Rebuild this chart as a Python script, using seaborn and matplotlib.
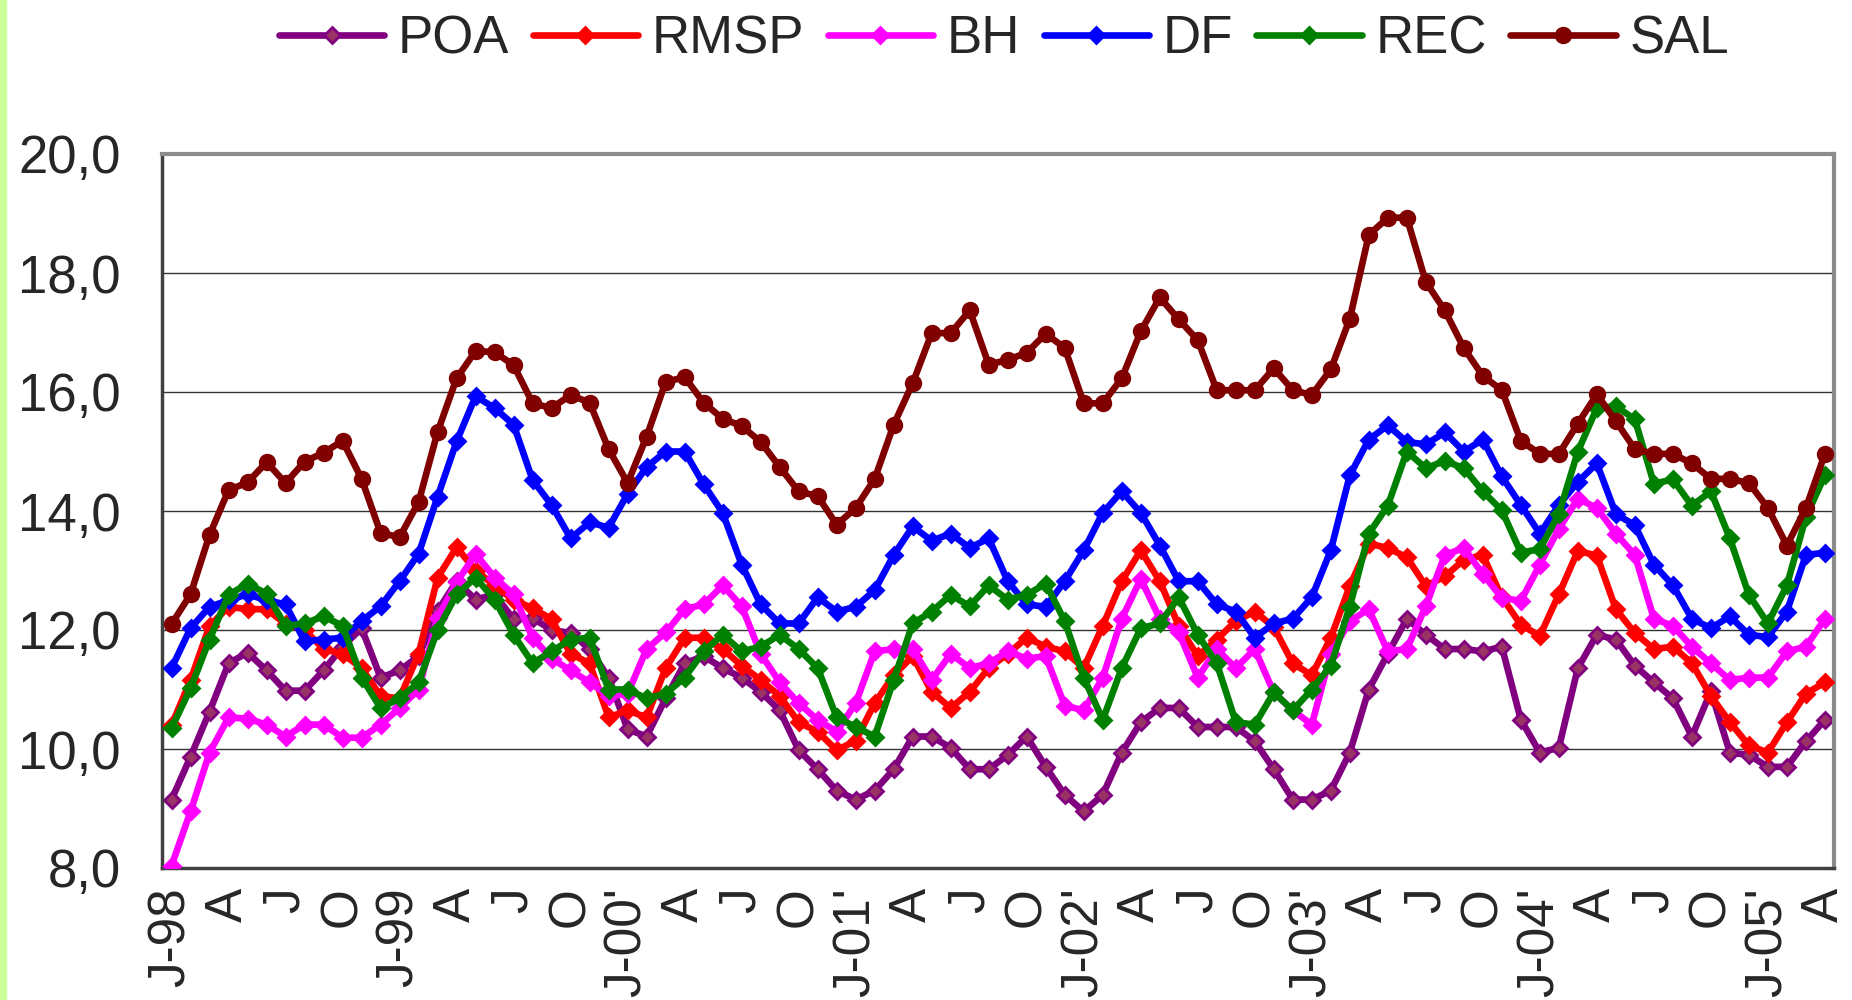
import numpy as np
import pandas as pd
import matplotlib
matplotlib.use("Agg")
import matplotlib.pyplot as plt
import seaborn as sns
from matplotlib.patches import Rectangle

# rotulos do eixo x (um a cada trimestre, jan/98 a abr/05)
rotulos = ["J-98", "A", "J", "O", "J-99", "A", "J", "O", "J-00'", "A", "J", "O",
           "J-01'", "A", "J", "O", "J-02'", "A", "J", "O", "J-03'", "A", "J", "O",
           "J-04'", "A", "J", "O", "J-05'", "A"]

cidades = ["POA", "RMSP", "BH", "DF", "REC", "SAL"]

poa = [9.15, 9.87, 10.63, 11.44, 11.62, 11.32, 10.98, 10.98, 11.32, 11.72, 12.03, 11.2,
       11.32, 11.56, 12.32, 12.82, 12.51, 12.6, 12.18, 12.2, 12.0, 11.95, 11.68, 11.2,
       10.33, 10.21, 10.85, 11.44, 11.56, 11.36, 11.2, 10.96, 10.65, 9.98, 9.66, 9.3,
       9.15, 9.3, 9.66, 10.21, 10.21, 10.02, 9.66, 9.66, 9.9, 10.21, 9.7, 9.23,
       8.95, 9.23, 9.94, 10.45, 10.69, 10.69, 10.37, 10.37, 10.37, 10.13, 9.66, 9.15,
       9.15, 9.3, 9.94, 11.0, 11.6, 12.19, 11.92, 11.68, 11.68, 11.64, 11.72, 10.49,
       9.94, 10.02, 11.36, 11.92, 11.84, 11.4, 11.12, 10.85, 10.21, 10.97, 9.94, 9.9,
       9.7, 9.7, 10.13, 10.49]

rmsp = [10.4, 11.16, 12.07, 12.39, 12.35, 12.35, 12.1, 12.0, 11.68, 11.6, 11.36, 10.89,
        10.85, 11.6, 12.88, 13.39, 13.0, 12.75, 12.5, 12.37, 12.18, 11.6, 11.44, 10.53,
        10.65, 10.53, 11.36, 11.87, 11.87, 11.68, 11.4, 11.16, 10.89, 10.45, 10.29, 9.98,
        10.14, 10.77, 11.24, 11.56, 10.96, 10.69, 10.96, 11.36, 11.6, 11.87, 11.72, 11.64,
        11.36, 12.07, 12.82, 13.34, 12.82, 12.07, 11.56, 11.84, 12.15, 12.31, 12.05, 11.44,
        11.24, 11.87, 12.74, 13.45, 13.38, 13.22, 12.74, 12.9, 13.18, 13.26, 12.55, 12.09,
        11.9, 12.6, 13.33, 13.25, 12.35, 11.95, 11.68, 11.72, 11.44, 10.89, 10.45, 10.06,
        9.94, 10.45, 10.93, 11.12]

bh = [8.04, 8.95, 9.94, 10.53, 10.51, 10.41, 10.21, 10.41, 10.41, 10.19, 10.19, 10.41,
      10.69, 11.0, 12.2, 12.8, 13.28, 12.88, 12.6, 11.87, 11.52, 11.32, 11.12, 10.89,
      10.93, 11.68, 11.96, 12.35, 12.43, 12.75, 12.4, 11.6, 11.12, 10.77, 10.49, 10.29,
      10.77, 11.64, 11.68, 11.68, 11.16, 11.6, 11.36, 11.44, 11.64, 11.52, 11.56, 10.73,
      10.65, 11.2, 12.19, 12.86, 12.19, 11.96, 11.2, 11.68, 11.36, 11.68, 10.95, 10.65,
      10.41, 11.6, 12.15, 12.35, 11.64, 11.68, 12.4, 13.26, 13.38, 12.94, 12.54, 12.49,
      13.1, 13.7, 14.21, 14.05, 13.62, 13.26, 12.19, 12.07, 11.72, 11.44, 11.16, 11.2,
      11.2, 11.64, 11.72, 12.19]

df_ = [11.36, 12.03, 12.39, 12.5, 12.6, 12.5, 12.43, 11.81, 11.84, 11.87, 12.15, 12.4,
       12.82, 13.28, 14.24, 15.17, 15.93, 15.73, 15.45, 14.52, 14.1, 13.54, 13.81, 13.72,
       14.29, 14.74, 15.0, 15.0, 14.45, 13.97, 13.1, 12.43, 12.11, 12.11, 12.55, 12.31,
       12.39, 12.67, 13.26, 13.74, 13.5, 13.62, 13.38, 13.54, 12.82, 12.43, 12.39, 12.82,
       13.34, 13.97, 14.33, 13.97, 13.42, 12.82, 12.82, 12.43, 12.31, 11.87, 12.11, 12.19,
       12.55, 13.34, 14.6, 15.2, 15.44, 15.16, 15.12, 15.32, 15.0, 15.2, 14.58, 14.1,
       13.62, 14.1, 14.49, 14.8, 13.95, 13.76, 13.1, 12.75, 12.19, 12.03, 12.23, 11.92,
       11.88, 12.31, 13.26, 13.3]

rec = [10.35, 11.02, 11.84, 12.59, 12.78, 12.61, 12.07, 12.11, 12.23, 12.07, 11.2, 10.69,
       10.85, 11.12, 12.0, 12.6, 12.88, 12.51, 11.92, 11.44, 11.64, 11.84, 11.87, 11.0,
       11.0, 10.85, 10.93, 11.2, 11.64, 11.92, 11.64, 11.72, 11.92, 11.68, 11.36, 10.53,
       10.37, 10.21, 11.16, 12.11, 12.31, 12.59, 12.4, 12.75, 12.51, 12.59, 12.78, 12.15,
       11.2, 10.49, 11.36, 12.03, 12.11, 12.55, 11.92, 11.44, 10.45, 10.41, 10.95, 10.65,
       11.0, 11.4, 12.39, 13.62, 14.09, 15.0, 14.72, 14.84, 14.72, 14.33, 14.01, 13.3,
       13.36, 13.95, 15.0, 15.73, 15.76, 15.54, 14.46, 14.53, 14.09, 14.33, 13.54, 12.59,
       12.11, 12.75, 13.9, 14.6]

sal = [12.1, 12.6, 13.6, 14.35, 14.48, 14.82, 14.47, 14.83, 14.98, 15.18, 14.54, 13.63,
       13.56, 14.15, 15.33, 16.23, 16.69, 16.67, 16.45, 15.81, 15.73, 15.95, 15.82, 15.04,
       14.47, 15.25, 16.17, 16.25, 15.82, 15.55, 15.43, 15.16, 14.74, 14.33, 14.25, 13.77,
       14.05, 14.54, 15.45, 16.15, 16.99, 16.99, 17.37, 16.46, 16.54, 16.66, 16.98, 16.74,
       15.81, 15.81, 16.23, 17.02, 17.59, 17.22, 16.87, 16.03, 16.03, 16.03, 16.4, 16.03,
       15.95, 16.38, 17.23, 18.64, 18.93, 18.93, 17.85, 17.37, 16.74, 16.27, 16.03, 15.18,
       14.96, 14.96, 15.47, 15.96, 15.51, 15.04, 14.96, 14.96, 14.8, 14.54, 14.54, 14.47,
       14.05, 13.42, 14.05, 14.96]

series = {"POA": poa, "RMSP": rmsp, "BH": bh, "DF": df_, "REC": rec, "SAL": sal}

# estilo de cada serie (cor da linha, marcador, cor do marcador)
estilos = {
    "POA":  dict(color="#800080", marker="D", markerfacecolor="#993366", markeredgecolor="#800080", ms=8.5),
    "RMSP": dict(color="#FF0000", marker="D", markerfacecolor="#FF0000", markeredgecolor="#FF0000", ms=8.5),
    "BH":   dict(color="#FF00FF", marker="D", markerfacecolor="#FF00FF", markeredgecolor="#FF00FF", ms=8.5),
    "DF":   dict(color="#0000FF", marker="D", markerfacecolor="#0000FF", markeredgecolor="#0000FF", ms=8.5),
    "REC":  dict(color="#008000", marker="D", markerfacecolor="#008000", markeredgecolor="#008000", ms=8.5),
    "SAL":  dict(color="#800000", marker="o", markerfacecolor="#800000", markeredgecolor="#800000", ms=10.5),
}

dados = pd.DataFrame(series)
dados["pos"] = np.arange(len(dados))
longo = dados.melt(id_vars="pos", var_name="cidade", value_name="taxa")

sns.set_style("white")
plt.rcParams["font.family"] = ["Liberation Sans", "DejaVu Sans"]

fig = plt.figure(figsize=(18.52, 10), dpi=100)
ax = fig.add_axes([0.0875, 0.132, 0.903, 0.714])

for i, nome in enumerate(cidades):
    sub = longo[longo["cidade"] == nome]
    sns.lineplot(data=sub, x="pos", y="taxa", ax=ax, label=nome, lw=4.8,
                 markeredgewidth=2, zorder=2 + i, **estilos[nome])

ax.set_xlim(-0.5, len(dados) - 0.5)
ax.set_ylim(8, 20)
ax.set_yticks(np.arange(8, 20.1, 2))
ax.set_yticklabels([("%.1f" % v).replace(".", ",") for v in np.arange(8, 20.1, 2)], fontsize=38)
ax.set_xticks(np.arange(0, len(dados), 3))
ax.set_xticklabels(rotulos, rotation=90, fontsize=37, va="top", ha="center")
ax.set_xticks(np.arange(-0.5, len(dados), 1), minor=True)
ax.tick_params(axis="x", which="major", length=0, pad=14)
ax.tick_params(axis="x", which="minor", direction="in", length=7, width=1, color="black")
ax.tick_params(axis="y", which="major", length=0, pad=30)
ax.set_xlabel("")
ax.set_ylabel("")

ax.grid(axis="y", color="#333333", lw=1)
ax.grid(axis="x", visible=False)
for lado in ["top", "right"]:
    ax.spines[lado].set_color("#8c8c8c")
    ax.spines[lado].set_linewidth(3)
for lado in ["left", "bottom"]:
    ax.spines[lado].set_color("#404040")
    ax.spines[lado].set_linewidth(2.5)

leg = ax.legend(loc="center", bbox_to_anchor=(0.542, 0.961), bbox_transform=fig.transFigure,
                ncol=6, frameon=False, fontsize=38, handlelength=2.0, handletextpad=0.25,
                columnspacing=0.45, borderaxespad=0)

# faixa verde clara na borda esquerda
fig.patches.append(Rectangle((0, 0), 0.0035, 1, transform=fig.transFigure,
                             color="#CCFF99", zorder=0))

fig.savefig("out.png", dpi=100)
